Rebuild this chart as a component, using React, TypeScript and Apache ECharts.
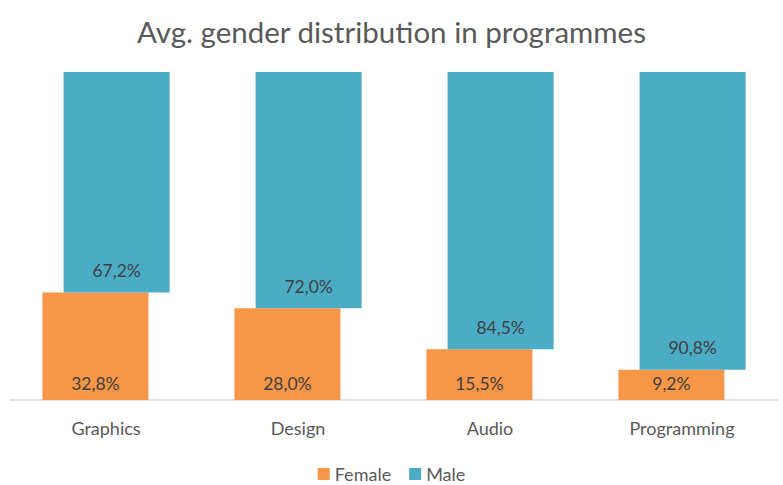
import React, { useEffect, useRef } from "react";
import * as echarts from "echarts";

const categories = ["Graphics", "Design", "Audio", "Programming"];
const femaleValues = [32.8, 28.0, 15.5, 9.2];
const maleValues = [67.2, 72.0, 84.5, 90.8];
const seriesNames = ["Female", "Male"];

const FONT = "Lato, 'Open Sans', sans-serif";
const fmt = (v: number) => v.toFixed(1).replace(".", ",") + "%";

export default function App() {
  const ref = useRef<HTMLDivElement>(null);
  useEffect(() => {
    document.body.style.margin = "0";
    if (!ref.current) return;
    const chart = echarts.init(ref.current, undefined, { renderer: "svg" });
    chart.setOption({
      animation: false,
      backgroundColor: "#ffffff",
      textStyle: { fontFamily: FONT },
      title: {
        text: "Avg. gender distribution in programmes",
        left: "center",
        top: 11,
        textStyle: { fontFamily: FONT, fontSize: 29.5, fontWeight: "normal", color: "#595959" },
      },
      legend: {
        data: seriesNames,
        top: 463,
        left: "center",
        padding: 0,
        icon: "rect",
        itemWidth: 12,
        itemHeight: 12,
        itemGap: 18,
        itemStyle: { borderWidth: 0 },
        textStyle: { fontFamily: FONT, fontSize: 18, color: "#595959", lineHeight: 22 },
      },
      grid: { left: 10, right: 5, top: 72, bottom: 85, containLabel: false },
      xAxis: {
        type: "category",
        data: categories,
        axisLine: { lineStyle: { color: "#d9d9d9", width: 1.5 } },
        axisTick: { show: false },
        axisLabel: { fontFamily: FONT, fontSize: 18, color: "#595959", margin: 19 },
      },
      yAxis: {
        type: "value",
        min: 0,
        max: 100,
        show: false,
        splitLine: { show: false },
      },
      series: [
        {
          name: "Female",
          type: "bar",
          stack: "f",
          data: femaleValues,
          barWidth: 106,
          barGap: "-80%",
          itemStyle: { color: "#F79646" },
          label: {
            show: true,
            position: "insideBottom",
            distance: 8,
            formatter: (p: any) => fmt(p.value),
            fontFamily: FONT,
            fontSize: 17.5,
            color: "#404040",
          },
        },
        {
          name: "MaleBase",
          type: "bar",
          stack: "m",
          data: femaleValues,
          barWidth: 106,
          itemStyle: { color: "transparent" },
          silent: true,
          label: { show: false },
        },
        {
          name: "Male",
          type: "bar",
          stack: "m",
          data: maleValues,
          barWidth: 106,
          itemStyle: { color: "#4BACC6" },
          label: {
            show: true,
            position: "insideBottom",
            distance: 13,
            formatter: (p: any) => fmt(p.value),
            fontFamily: FONT,
            fontSize: 17.5,
            color: "#404040",
          },
        },
      ],
    });
    return () => chart.dispose();
  }, []);
  return <div ref={ref} style={{ width: 783, height: 485 }} />;
}
